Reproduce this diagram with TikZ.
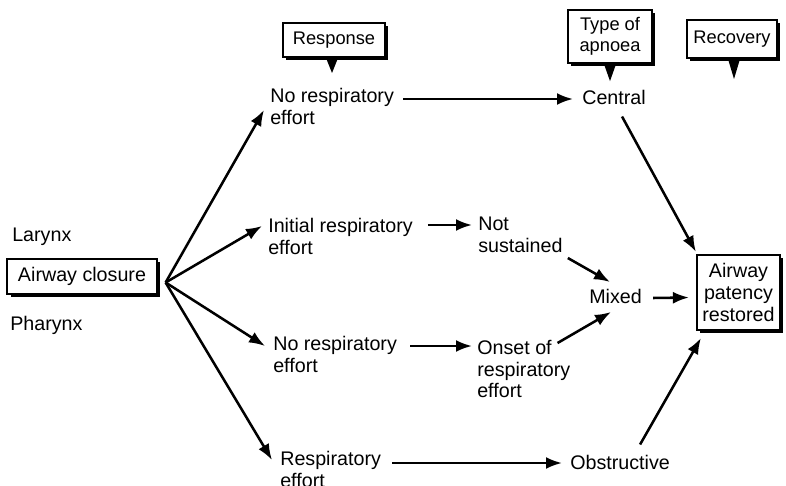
\documentclass[tikz,border=0pt]{standalone}
\usepackage{fontspec}
\setmainfont{Liberation Sans}
\usepackage{tikz}
\usetikzlibrary{positioning,arrows.meta,calc,shadows}

\begin{document}
\begin{tikzpicture}[
    x=0.025cm, y=-0.025cm,
    font=\fontsize{14}{15.6}\selectfont,
    lbl/.style={inner sep=0pt, align=left, anchor=west},
    box/.style={draw, line width=1.4pt, fill=white, align=center, inner sep=0pt,
      drop shadow={shadow xshift=0.08cm, shadow yshift=-0.08cm, fill=black, opacity=1}},
    head/.style={box, font=\fontsize{13}{15}\selectfont},
    arrow/.style={-{Latex[length=4mm,width=3mm]}, line width=1.8pt}
  ]
    \useasboundingbox (0,0) rectangle (786,485);

    % headers with pointers
    \node[head, minimum width=2.55cm, minimum height=0.85cm] (response) at (334,40) {Response};
    \node[head, minimum width=2.1cm, minimum height=1.33cm] (typeap) at (610,36.5) {Type of\\apnoea};
    \node[head, minimum width=2.25cm, minimum height=0.95cm] (recovery) at (732,39) {Recovery};
    \foreach \h/\dx/\len in {response/-2/15, typeap/0/17, recovery/2/20}
      \fill ($(\h.south)+(\dx-6,0)$) -- ++(12,0) -- ++(-6,\len) -- cycle;

    % left side
    \node[box, minimum width=3.73cm, minimum height=0.875cm] (closure) at (82,276.5) {Airway closure};
    \node[lbl] (larynx) at (12,237) {Larynx};
    \node[lbl] (pharynx) at (10,325) {Pharynx};

    % responses
    \node[lbl] (nre1) at (270,106) {No respiratory\\effort};
    \node[lbl] (ire) at (268,236) {Initial respiratory\\effort};
    \node[lbl] (nre2) at (273,354) {No respiratory\\effort};
    \node[lbl] (re) at (280,469) {Respiratory\\effort};

    % type of apnoea
    \node[lbl] (central) at (582,97) {Central};
    \node[lbl] (notsus) at (478,235) {Not\\sustained};
    \node[lbl] (onset) at (477,369) {Onset of\\respiratory\\effort};
    \node[lbl] (mixed) at (589,296) {Mixed};
    \node[lbl] (obstr) at (570,462) {Obstructive};

    % recovery
    \node[box, minimum width=2.08cm, minimum height=1.88cm] (patency) at (738.5,292.5) {Airway\\patency\\restored};

    \coordinate (fan) at ($(closure.east)+(8,6)$);
    \draw[arrow] (fan) -- ($(nre1.west)+(-6,4)$);
    \draw[arrow] (fan) -- ($(ire.west)+(-6,-10)$);
    \draw[arrow] (fan) -- ($(nre2.west)+(-8,-8)$);
    \draw[arrow] (fan) -- ($(re.west)+(-8,-9)$);

    \draw[arrow] ($(nre1.east)+(9,-7)$) -- ($(central.west)+(-9,2)$);
    \draw[arrow] ($(ire.east)+(15,-11)$) -- ($(notsus.west)+(-6,-10)$);
    \draw[arrow] ($(nre2.east)+(13,-8)$) -- ($(onset.west)+(-5,-23)$);
    \draw[arrow] ($(re.east)+(11,-6)$) -- ($(obstr.west)+(-8,1)$);

    \draw[arrow] ($(notsus.east)+(5,23)$) -- ($(mixed.west)+(21,-14)$);
    \draw[arrow] ($(onset.east)+(-13,-26)$) -- ($(mixed.west)+(22,16)$);

    \draw[arrow] ($(central.south)+(8,12)$) -- ($(patency.north west)+(0,-2)$);
    \draw[arrow] ($(mixed.east)+(11,2)$) -- ($(patency.west)+(-7,5)$);
    \draw[arrow] ($(obstr.north)+(20,-10)$) -- ($(patency.south west)+(5,7)$);
  \end{tikzpicture}
\end{document}
